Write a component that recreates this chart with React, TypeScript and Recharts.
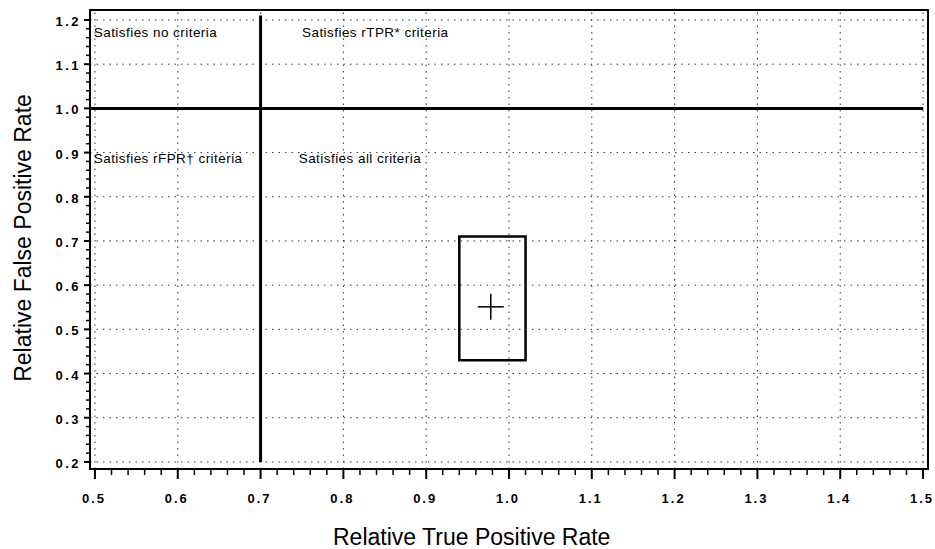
import React from 'react';
import {
  ComposedChart,
  XAxis,
  YAxis,
  Scatter,
  ReferenceLine,
  ReferenceArea,
} from 'recharts';

// axis extents (the frame sits a little outside the outer ticks)
const X_MIN = 0.494;
const X_MAX = 1.506;
const Y_MIN = 0.184;
const Y_MAX = 1.2226;

const X_MAJOR = [0.5, 0.6, 0.7, 0.8, 0.9, 1.0, 1.1, 1.2, 1.3, 1.4, 1.5];
const Y_MAJOR = [0.2, 0.3, 0.4, 0.5, 0.6, 0.7, 0.8, 0.9, 1.0, 1.1, 1.2];

// minor ticks every 0.02 between the majors
const withMinors = (majors: number[]) => {
  const out: number[] = [];
  for (let i = 0; i < majors.length - 1; i++) {
    for (let k = 0; k < 5; k++) out.push(+(majors[i] + k * 0.02).toFixed(2));
  }
  out.push(majors[majors.length - 1]);
  return out;
};
const X_TICKS = withMinors(X_MAJOR);
const Y_TICKS = withMinors(Y_MAJOR);

// criteria thresholds
const RTPR_THRESHOLD = 0.7;
const RFPR_THRESHOLD = 1.0;

// confidence box and point estimate
const BOX = { x1: 0.94, x2: 1.02, y1: 0.43, y2: 0.71 };
const ESTIMATE = [{ x: 0.978, y: 0.551 }];

const REGION_LABELS = [
  { x: 0.4985, y: 1.162, text: 'Satisfies no criteria' },
  { x: 0.75, y: 1.162, text: 'Satisfies rTPR* criteria' },
  { x: 0.4985, y: 0.877, text: 'Satisfies rFPR\u2020 criteria' },
  { x: 0.746, y: 0.877, text: 'Satisfies all criteria' },
];

const FONT = '"Liberation Sans", Arial, sans-serif';

const isMajor = (v: number, majors: number[]) =>
  majors.some((m) => Math.abs(m - v) < 1e-6);

const XTick = (props: any) => {
  const { x, y, payload } = props;
  const major = isMajor(payload.value, X_MAJOR);
  return (
    <g>
      <line x1={x} x2={x} y1={y} y2={y + (major ? 10 : 6)} stroke="#000" strokeWidth={major ? 2 : 1.5} />
      {major && (
        <text
          x={x - 1}
          y={y + 34}
          textAnchor="middle"
          fontFamily={FONT}
          fontWeight="bold"
          fontSize={13}
          letterSpacing={2}
          fill="#000"
        >
          {payload.value.toFixed(1)}
        </text>
      )}
    </g>
  );
};

const YTick = (props: any) => {
  const { x, y, payload } = props;
  const major = isMajor(payload.value, Y_MAJOR);
  return (
    <g>
      <line x1={x} x2={x - (major ? 6 : 4)} y1={y} y2={y} stroke="#000" strokeWidth={major ? 2 : 1.5} />
      {major && (
        <text
          x={x - 9}
          y={y + 6}
          textAnchor="end"
          fontFamily={FONT}
          fontWeight="bold"
          fontSize={13}
          letterSpacing={2.5}
          fill="#000"
        >
          {payload.value.toFixed(1)}
        </text>
      )}
    </g>
  );
};

const Cross = (props: any) => {
  const { cx, cy } = props;
  return (
    <g stroke="#000" strokeWidth={1.5}>
      <line x1={cx - 13} x2={cx + 13} y1={cy} y2={cy} />
      <line x1={cx} x2={cx} y1={cy - 13} y2={cy + 13} />
    </g>
  );
};

const RegionText = (props: any) => {
  const { cx, cy, payload } = props;
  return (
    <text x={cx} y={cy} fontFamily={FONT} fontSize={13.5} letterSpacing={0.45} fill="#000">
      {payload.text}
    </text>
  );
};

const XTitle = (props: any) => {
  const { viewBox } = props;
  return (
    <text x={viewBox.x + 243} y={viewBox.y + 76} fontFamily={FONT} fontSize={23} fill="#000">
      Relative True Positive Rate
    </text>
  );
};

const YTitle = (props: any) => {
  const { viewBox } = props;
  const cx = 31;
  const cy = viewBox.y + 228;
  return (
    <text
      x={cx}
      y={cy}
      textAnchor="middle"
      transform={`rotate(-90 ${cx} ${cy})`}
      fontFamily={FONT}
      fontSize={23}
      fill="#000"
    >
      Relative False Positive Rate
    </text>
  );
};

export default function App() {
  return (
    <div style={{ position: 'absolute', left: 0, top: 0, background: '#fff' }}>
      <ComposedChart width={935} height={549} margin={{ top: 10, right: 7, left: 0, bottom: 0 }}>
        <XAxis
          type="number"
          dataKey="x"
          domain={[X_MIN, X_MAX]}
          allowDataOverflow
          ticks={X_TICKS}
          interval={0}
          tick={<XTick />}
          tickLine={false}
          tickSize={0}
          tickMargin={0}
          height={80}
          axisLine={{ stroke: '#000', strokeWidth: 2 }}
          label={<XTitle />}
        />
        <YAxis
          type="number"
          dataKey="y"
          domain={[Y_MIN, Y_MAX]}
          allowDataOverflow
          ticks={Y_TICKS}
          interval={0}
          tick={<YTick />}
          tickLine={false}
          tickSize={0}
          tickMargin={0}
          width={90}
          axisLine={{ stroke: '#000', strokeWidth: 2 }}
          label={<YTitle />}
        />

        {X_MAJOR.map((v) => (
          <ReferenceLine key={`gx${v}`} x={v} stroke="#333" strokeWidth={1} strokeDasharray="1.5 5" />
        ))}
        {Y_MAJOR.map((v) => (
          <ReferenceLine key={`gy${v}`} y={v} stroke="#333" strokeWidth={1} strokeDasharray="1.5 5" />
        ))}

        <ReferenceArea
          x1={X_MIN}
          x2={X_MAX}
          y1={Y_MIN}
          y2={Y_MAX}
          fill="none"
          stroke="#000"
          strokeWidth={2}
          ifOverflow="visible"
        />

        <ReferenceLine
          segment={[
            { x: X_MIN, y: RFPR_THRESHOLD },
            { x: 1.5, y: RFPR_THRESHOLD },
          ]}
          stroke="#000"
          strokeWidth={3}
        />
        <ReferenceLine
          segment={[
            { x: RTPR_THRESHOLD, y: 0.2 },
            { x: RTPR_THRESHOLD, y: 1.21 },
          ]}
          stroke="#000"
          strokeWidth={3}
        />

        <ReferenceArea
          x1={BOX.x1}
          x2={BOX.x2}
          y1={BOX.y1}
          y2={BOX.y2}
          fill="none"
          stroke="#000"
          strokeWidth={2.5}
        />

        <Scatter data={ESTIMATE} shape={<Cross />} isAnimationActive={false} />
        <Scatter data={REGION_LABELS} shape={<RegionText />} isAnimationActive={false} />
      </ComposedChart>
    </div>
  );
}
